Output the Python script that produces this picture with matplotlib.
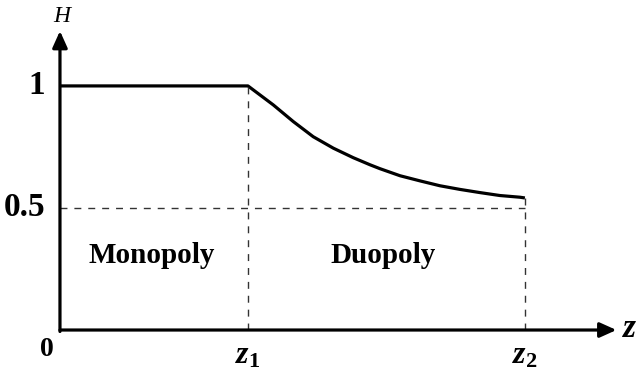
import matplotlib
matplotlib.use('Agg')
import matplotlib.pyplot as plt

plt.rcParams['font.family'] = 'Liberation Serif'
plt.rcParams['mathtext.fontset'] = 'custom'
plt.rcParams['mathtext.it'] = 'Liberation Serif:bold:italic'
plt.rcParams['mathtext.rm'] = 'Liberation Serif:bold'

# thresholds on the z axis
z1 = 1.0
z2 = 2.473
h_mid = 0.5

# H(z): flat at 1 up to z1, then decaying towards z2
z_vals = [0.0, 1.0, 1.135, 1.241, 1.347, 1.454, 1.560, 1.649, 1.702, 1.809,
          1.915, 2.021, 2.128, 2.234, 2.340, 2.447, 2.473]
h_vals = [1.0, 1.0, 0.922, 0.854, 0.792, 0.745, 0.706, 0.677, 0.661, 0.632,
          0.611, 0.591, 0.576, 0.563, 0.551, 0.544, 0.541]

ytick_vals = [1.0, 0.5]
ytick_labels = ['1', '0.5']
xtick_vals = [0.0, z1, z2]
xtick_labels = ['0', '$z_1$', '$z_2$']
regions = ['Monopoly', 'Duopoly']
region_x = [0.49, 1.72]

fig = plt.figure(figsize=(6.39, 3.72), dpi=100)
ax = fig.add_axes([0, 0, 1, 1])
ax.set_xlim(-0.319, 3.080)
ax.set_ylim(-0.172, 1.352)
ax.axis('off')

lw = 2.3
ax.plot(z_vals, h_vals, color='black', lw=lw, solid_capstyle='butt',
        solid_joinstyle='round')

# axes with arrow heads
ax.annotate('', xy=(2.96, 0), xytext=(0, 0),
            arrowprops=dict(arrowstyle='-|>,head_length=1.0,head_width=0.45',
                            color='black', lw=lw, shrinkA=0, shrinkB=0))
ax.annotate('', xy=(0, 1.225), xytext=(0, -0.006),
            arrowprops=dict(arrowstyle='-|>,head_length=1.0,head_width=0.45',
                            color='black', lw=lw, shrinkA=0, shrinkB=0))

dash = dict(color='#333333', lw=1.0, linestyle=(0, (5, 5)))
ax.plot([z1, z1], [0, 1.0], **dash)
ax.plot([0, z2], [h_mid, h_mid], **dash)
ax.plot([z2, z2], [0, h_vals[-1]], **dash)

for v, lab in zip(ytick_vals, ytick_labels):
    ax.text(-0.08, v, lab, ha='right', va='center', fontsize=24, fontweight='bold')
for v, lab in zip(xtick_vals, xtick_labels):
    if v == 0:
        ax.text(-0.07, -0.08, lab, ha='center', va='center', fontsize=20, fontweight='bold')
    else:
        ax.text(v, -0.105, lab, ha='center', va='center', fontsize=23, fontweight='bold')

ax.text(0.01, 1.285, 'H', ha='center', va='center', fontsize=17, fontstyle='italic')
ax.text(3.03, 0.005, '$z$', ha='center', va='center', fontsize=24)

for x, lab in zip(region_x, regions):
    ax.text(x, 0.305, lab, ha='center', va='center', fontsize=21, fontweight='bold')

fig.savefig('out.png', dpi=100)
